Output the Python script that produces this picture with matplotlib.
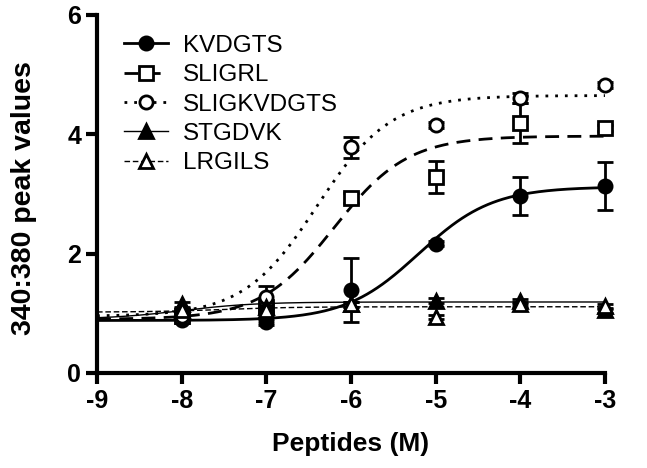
import numpy as np
import matplotlib.pyplot as plt

plt.rcParams['font.family'] = ['Liberation Sans', 'DejaVu Sans']
plt.rcParams['axes.unicode_minus'] = False

# log concentration of peptide (M)
log_conc = [-8, -7, -6, -5, -4, -3]

names = ['KVDGTS', 'SLIGRL', 'SLIGKVDGTS', 'STGDVK', 'LRGILS']

kvdgts = [0.88, 0.85, 1.39, 2.17, 2.96, 3.14]
kvdgts_err = [0.05, 0.05, 0.54, 0.05, 0.32, 0.40]
sligrl = [0.95, 1.10, 2.93, 3.29, 4.19, 4.10]
sligrl_err = [0.05, 0.08, 0.08, 0.27, 0.33, 0.05]
sligkvdgts = [0.95, 1.28, 3.78, 4.15, 4.61, 4.82]
sligkvdgts_err = [0.05, 0.18, 0.18, 0.05, 0.08, 0.05]
stgdvk = [1.15, 1.10, 1.15, 1.21, 1.20, 1.05]
stgdvk_err = [0.04, 0.04, 0.04, 0.04, 0.04, 0.04]
lrgils = [1.05, 1.05, 1.15, 0.94, 1.15, 1.12]
lrgils_err = [0.04, 0.04, 0.04, 0.04, 0.04, 0.04]

# fitted sigmoid parameters: bottom, top, logEC50, hill slope
fit_kvdgts = (0.88, 3.12, -5.2, 1.0)
fit_sligrl = (0.90, 3.97, -6.2, 1.0)
fit_sligkvdgts = (0.95, 4.65, -6.4, 1.0)
fit_stgdvk = (0.90, 1.19, -8.0, 1.0)
fit_lrgils = (1.02, 1.11, -7.5, 1.0)


def sigmoid(x, p):
    bottom, top, ec50, hill = p
    return bottom + (top - bottom) / (1 + 10 ** ((ec50 - x) * hill))


fig = plt.figure(figsize=(6.47, 4.68), dpi=100)
ax = fig.add_axes([0.150, 0.203, 0.785, 0.765])

xs = np.linspace(-9, -3, 300)
series = [
    (kvdgts, kvdgts_err, fit_kvdgts, dict(marker='o', mfc='black'), '-', 2.0),
    (sligrl, sligrl_err, fit_sligrl, dict(marker='s', mfc='white'), (0, (5, 3)), 2.0),
    (sligkvdgts, sligkvdgts_err, fit_sligkvdgts, dict(marker='o', mfc='white'), (0, (1, 2.5)), 2.0),
    (stgdvk, stgdvk_err, fit_stgdvk, dict(marker='^', mfc='black'), '-', 1.0),
    (lrgils, lrgils_err, fit_lrgils, dict(marker='^', mfc='white'), (0, (4, 2)), 1.0),
]

handles = []
for (y, err, fit, mk, ls, lw), name in zip(series, names):
    ax.plot(xs, sigmoid(xs, fit), color='black', ls=ls, lw=lw)
    ax.errorbar(log_conc, y, yerr=err, fmt='none', ecolor='black',
                elinewidth=2, capsize=6, capthick=2, clip_on=False)
    ax.plot(log_conc, y, ls='none', color='black', mec='black', mew=2,
            ms=9.5, clip_on=False, **mk)
    h, = ax.plot([], [], color='black', ls=ls, lw=lw, mec='black', mew=2,
                 ms=9.5, **mk)
    handles.append(h)

ax.legend(handles, names, loc='upper left', bbox_to_anchor=(0.025, 0.985),
          frameon=False, fontsize=17.5, handlelength=1.8, handletextpad=0.6,
          labelspacing=0.3, borderaxespad=0.2)

ax.set_xlim(-9, -3)
ax.set_ylim(0, 6)
ax.set_xticks(range(-9, -2))
ax.set_yticks([0, 2, 4, 6])
ax.spines['top'].set_visible(False)
ax.spines['right'].set_visible(False)
ax.spines['left'].set_linewidth(3)
ax.spines['bottom'].set_linewidth(3)
ax.tick_params(width=3, length=8, labelsize=18)
for lab in ax.get_xticklabels() + ax.get_yticklabels():
    lab.set_fontweight('bold')
ax.set_xlabel('Peptides (M)', fontsize=19, fontweight='bold', labelpad=14)
ax.set_ylabel('340:380 peak values', fontsize=20.5, fontweight='bold')
ax.yaxis.set_label_coords(-0.118, 0.49)

fig.savefig('out.png', dpi=100)
